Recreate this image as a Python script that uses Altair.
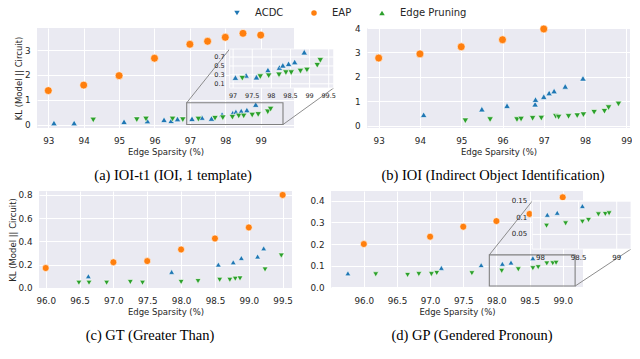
import altair as alt
import pandas as pd

methods = ["ACDC", "EAP", "Edge Pruning"]
colors = ["#1f77b4", "#ff7f0e", "#2ca02c"]
plot_shapes = ["triangle-up", "circle", "triangle-down"]
legend_shapes = ["triangle-down", "circle", "triangle-up"]

# ---------- (a) IOI-t1 ----------
a_acdc_x = [93.16, 93.73, 95.14, 95.80, 96.27, 96.47, 96.65, 97.06, 97.34, 97.61, 97.91, 98.21, 98.30, 98.45, 98.61, 98.86]
a_acdc_y = [0.07, 0.07, 0.12, 0.15, 0.20, 0.16, 0.23, 0.24, 0.29, 0.25, 0.41, 0.465, 0.515, 0.55, 0.59, 0.81]
a_eap_x = [93.0, 94.0, 95.0, 96.0, 97.0, 97.5, 98.0, 98.5, 99.0]
a_eap_y = [1.37, 1.59, 1.97, 2.67, 3.23, 3.35, 3.51, 3.67, 3.60]
a_ep_x = [94.27, 95.50, 95.76, 96.51, 96.80, 97.24, 97.71, 97.93, 98.20, 98.38, 98.52, 98.76, 98.93, 99.20, 99.28]
a_ep_y = [0.19, 0.20, 0.23, 0.23, 0.20, 0.225, 0.26, 0.28, 0.30, 0.35, 0.35, 0.385, 0.41, 0.515, 0.625]

# ---------- (b) IOI ----------
b_acdc_x = [94.09, 95.50, 96.11, 96.79, 96.80, 97.00, 97.13, 97.25, 97.52, 97.95]
b_acdc_y = [0.45, 0.68, 0.82, 0.88, 1.07, 1.19, 1.34, 1.42, 1.61, 1.94]
b_eap_x = [93.0, 94.0, 95.0, 96.0, 97.0]
b_eap_y = [2.77, 2.94, 3.23, 3.52, 3.96]
b_ep_x = [95.10, 95.70, 96.35, 96.45, 96.73, 96.94, 97.29, 97.36, 97.60, 97.81, 97.96, 98.22, 98.47, 98.57, 98.81]
b_ep_y = [0.20, 0.25, 0.25, 0.27, 0.30, 0.31, 0.38, 0.35, 0.38, 0.41, 0.45, 0.55, 0.59, 0.74, 0.89]

# ---------- (c) GT ----------
c_acdc_x = [96.63, 97.86, 98.55, 98.77, 98.89, 99.13, 99.22]
c_acdc_y = [0.10, 0.137, 0.20, 0.22, 0.257, 0.27, 0.34]
c_eap_x = [96.0, 97.0, 97.5, 98.0, 98.5, 99.0, 99.5]
c_eap_y = [0.17, 0.22, 0.23, 0.33, 0.425, 0.52, 0.80]
c_ep_x = [96.49, 96.64, 96.90, 97.25, 97.43, 98.00, 98.25, 98.57, 98.72, 98.80, 98.87, 99.24, 99.48]
c_ep_y = [0.043, 0.043, 0.043, 0.049, 0.043, 0.049, 0.057, 0.068, 0.068, 0.077, 0.080, 0.157, 0.277]

# ---------- (d) GP ----------
d_acdc_x = [95.76, 97.17, 97.77, 98.09, 98.22, 98.55]
d_acdc_y = [0.065, 0.090, 0.103, 0.109, 0.115, 0.135]
d_eap_x = [96.0, 97.0, 97.5, 98.0, 98.5, 99.0]
d_eap_y = [0.200, 0.234, 0.280, 0.306, 0.339, 0.416]
d_ep_x = [96.18, 96.66, 96.83, 97.02, 97.10, 97.63, 98.08, 98.33, 98.55, 98.63, 98.76, 98.85, 98.90]
d_ep_y = [0.060, 0.057, 0.061, 0.061, 0.066, 0.065, 0.076, 0.083, 0.088, 0.093, 0.110, 0.111, 0.113]

# tick values / labels
a_xticks = [93, 94, 95, 96, 97, 98, 99]
a_yticks = [0, 1, 2, 3]
b_xticks = [93, 94, 95, 96, 97, 98, 99]
b_yticks = [0, 1, 2, 3, 4]
c_xticks = [96.0, 96.5, 97.0, 97.5, 98.0, 98.5, 99.0, 99.5]
c_yticks = [0.0, 0.2, 0.4, 0.6, 0.8]
d_xticks = [95.5, 96.0, 96.5, 97.0, 97.5, 98.0, 98.5, 99.0]
d_yticks = [0.0, 0.1, 0.2, 0.3, 0.4]

a_inset_xticks = [97, 97.5, 98, 98.5, 99, 99.5]
a_inset_xlabels = ["97", "97.5", "98", "98.5", "99", "99.5"]
a_inset_yticks = [0.1, 0.3, 0.5, 0.7]
a_inset_ylabels = ["0.1", "0.3", "0.5", "0.7"]
d_inset_xticks = [98, 98.5, 99]
d_inset_xlabels = ["98", "98.5", "99"]
d_inset_yticks = [0.05, 0.1, 0.15]
d_inset_ylabels = ["0.05", "0.1", "0.15"]

TXT = "#262626"
GRAYLINE = "#808080"
BG = "#EAEAF2"


def make_panel(P):
    W, H = P["W"], P["H"]
    X0, X1 = P["xdom"]
    Y0, Y1 = P["ydom"]
    xs = alt.Scale(domain=[X0, X1], nice=False, zero=False)
    ys = alt.Scale(domain=[Y0, Y1], nice=False, zero=False)
    if P["ytitle"]:
        yaxis = alt.Axis(values=P["yticks"], format=P["yfmt"], title=P["ytitle"])
    else:
        yaxis = alt.Axis(values=P["yticks"], format=P["yfmt"], title=None)
    xaxis = alt.Axis(values=P["xticks"], format=P["xfmt"], title="Edge Sparsity (%)")
    main = []
    for i, m in enumerate(methods):
        df = pd.DataFrame({"x": P["data"][m][0], "y": P["data"][m][1]})
        main.append(
            alt.Chart(df).mark_point(filled=True, shape=plot_shapes[i], size=P["sizes"][i],
                                     fill=colors[i], stroke="white", strokeWidth=0.6, opacity=1)
            .encode(x=alt.X("x:Q", scale=xs, axis=xaxis),
                    y=alt.Y("y:Q", scale=ys, axis=yaxis))
        )
    if P.get("legend"):
        leg = dict(orient="none", legendX=195, legendY=-20, direction="horizontal", title=None,
                   labelFont="DejaVu Sans", labelFontSize=10, labelColor=TXT, symbolSize=30,
                   symbolStrokeWidth=0, labelOffset=13, columnPadding=25, padding=0)
        main.append(
            alt.Chart(pd.DataFrame({"method": methods})).transform_filter("false")
            .mark_point(filled=True, opacity=1)
            .encode(color=alt.Color("method:N", scale=alt.Scale(domain=methods, range=colors),
                                    legend=alt.Legend(**leg)),
                    shape=alt.Shape("method:N", scale=alt.Scale(domain=methods, range=legend_shapes),
                                    legend=alt.Legend(**leg)))
        )
    if P.get("inset"):
        I = P["inset"]
        ix0, ix1, iy0, iy1 = I["box"]
        mx0, mx1, my0, my1 = I["at"]

        def px(v):
            return (v - X0) / (X1 - X0) * W

        def py(v):
            return (v - Y0) / (Y1 - Y0) * H

        su = (ix1 - ix0) / (px(mx1) - px(mx0))
        lo = ix0 - px(mx0) * su
        ixs = alt.Scale(domain=[lo, lo + W * su], nice=False, zero=False)
        sv = (iy1 - iy0) / (py(my1) - py(my0))
        lov = iy0 - py(my0) * sv
        iys = alt.Scale(domain=[lov, lov + H * sv], nice=False, zero=False)
        one = alt.Data(values=[{"k": 0}])
        # zoom box + connectors on the main axes
        main.append(
            alt.Chart(one).mark_rect(fillOpacity=0, stroke=GRAYLINE, strokeWidth=1.1)
            .encode(x=alt.XDatum(ix0, scale=xs, axis=xaxis, type="quantitative"), x2=alt.datum(ix1),
                    y=alt.YDatum(iy0, scale=ys, axis=yaxis, type="quantitative"), y2=alt.datum(iy1))
        )
        conn = pd.DataFrame({"x": [ix0, ix1], "y": [iy1, iy0], "x2": [mx0, mx1], "y2": [my1, my0]})
        main.append(
            alt.Chart(conn).mark_rule(color=GRAYLINE, strokeWidth=0.9)
            .encode(x=alt.X("x:Q", scale=xs, axis=xaxis), y=alt.Y("y:Q", scale=ys, axis=yaxis),
                    x2="x2:Q", y2="y2:Q")
        )
        ins = []
        ins.append(
            alt.Chart(one).mark_rect(fill=BG, stroke="white", strokeWidth=0.8)
            .encode(x=alt.XDatum(ix0, scale=ixs, axis=None, type="quantitative"), x2=alt.datum(ix1),
                    y=alt.YDatum(iy0, scale=iys, axis=None, type="quantitative"), y2=alt.datum(iy1))
        )
        gx = pd.DataFrame({"v": I["xticks"], "label": I["xlabels"]})
        gy = pd.DataFrame({"v": I["yticks"], "label": I["ylabels"]})
        ins.append(
            alt.Chart(gx).mark_rule(color="white", strokeWidth=1)
            .encode(x=alt.X("v:Q", scale=ixs, axis=None),
                    y=alt.YDatum(iy0, scale=iys, axis=None, type="quantitative"), y2=alt.datum(iy1))
        )
        ins.append(
            alt.Chart(gy).mark_rule(color="white", strokeWidth=1)
            .encode(y=alt.Y("v:Q", scale=iys, axis=None),
                    x=alt.XDatum(ix0, scale=ixs, axis=None, type="quantitative"), x2=alt.datum(ix1))
        )
        for i, m in enumerate(methods):
            df = pd.DataFrame({"x": P["data"][m][0], "y": P["data"][m][1]})
            df = df[(df.x >= ix0) & (df.x <= ix1) & (df.y >= iy0) & (df.y <= iy1)]
            if len(df) == 0:
                continue
            ins.append(
                alt.Chart(df).mark_point(filled=True, shape=plot_shapes[i], size=P["sizes"][i],
                                         fill=colors[i], stroke="white", strokeWidth=0.6, opacity=1)
                .encode(x=alt.X("x:Q", scale=ixs, axis=None), y=alt.Y("y:Q", scale=iys, axis=None))
            )
        ins.append(
            alt.Chart(gx).mark_text(font="DejaVu Sans", fontSize=I["fs"], color=TXT, baseline="top", dy=5)
            .encode(x=alt.X("v:Q", scale=ixs, axis=None),
                    y=alt.YDatum(iy0, scale=iys, axis=None, type="quantitative"), text="label:N")
        )
        ins.append(
            alt.Chart(gy).mark_text(font="DejaVu Sans", fontSize=I["fs"], color=TXT, align="right",
                                    baseline="middle", dx=-5)
            .encode(y=alt.Y("v:Q", scale=iys, axis=None),
                    x=alt.XDatum(ix0, scale=ixs, axis=None, type="quantitative"), text="label:N")
        )
        layers = alt.layer(alt.layer(*main), alt.layer(*ins)).resolve_scale(x="independent", y="independent")
    else:
        layers = alt.layer(*main)
    return layers.properties(
        width=W, height=H,
        view=alt.ViewBackground(fill=BG, strokeWidth=0),
        title=alt.TitleParams(P["title"], orient="bottom", anchor="middle", frame="group",
                              font="Liberation Serif", fontSize=14.5, fontWeight="normal",
                              color="#000000", offset=13, dx=P["dx"]),
    )


PA = dict(W=257, H=100, xdom=[92.681, 99.941], ydom=[-0.133, 3.884],
          xticks=a_xticks, yticks=a_yticks, xfmt="d", yfmt="d", ytitle="KL (Model || Circuit)",
          data={"ACDC": (a_acdc_x, a_acdc_y), "EAP": (a_eap_x, a_eap_y), "Edge Pruning": (a_ep_x, a_ep_y)},
          sizes=[42, 62, 42], title="(a) IOI-t1 (IOI, 1 template)", dx=7.5, legend=True,
          inset=dict(box=[96.91, 99.63, 0.006, 0.88], at=[98.124, 101.062, 1.474, 3.04],
                     xticks=a_inset_xticks, xlabels=a_inset_xlabels,
                     yticks=a_inset_yticks, ylabels=a_inset_ylabels, fs=6.5))
PB = dict(W=263, H=100, xdom=[92.717, 99.089], ydom=[-0.094, 4.0],
          xticks=b_xticks, yticks=b_yticks, xfmt="d", yfmt="d", ytitle=None,
          data={"ACDC": (b_acdc_x, b_acdc_y), "EAP": (b_eap_x, b_eap_y), "Edge Pruning": (b_ep_x, b_ep_y)},
          sizes=[42, 62, 42], title="(b) IOI (Indirect Object Identification)", dx=-5.5)
PC = dict(W=253, H=97, xdom=[95.901, 99.638], ydom=[-0.002, 0.834],
          xticks=c_xticks, yticks=c_yticks, xfmt=".1f", yfmt=".1f", ytitle="KL (Model || Circuit)",
          data={"ACDC": (c_acdc_x, c_acdc_y), "EAP": (c_eap_x, c_eap_y), "Edge Pruning": (c_ep_x, c_ep_y)},
          sizes=[34, 48, 34], title="(c) GT (Greater Than)", dx=-15.5)
PD = dict(W=252, H=97, xdom=[95.505, 99.306], ydom=[-0.003, 0.445],
          xticks=d_xticks, yticks=d_yticks, xfmt=".1f", yfmt=".1f", ytitle=None,
          data={"ACDC": (d_acdc_x, d_acdc_y), "EAP": (d_eap_x, d_eap_y), "Edge Pruning": (d_ep_x, d_ep_y)},
          sizes=[34, 48, 34], title="(d) GP (Gendered Pronoun)", dx=15,
          inset=dict(box=[97.893, 99.187, 0.006, 0.15], at=[98.541, 100.03, 0.1769, 0.3986],
                     xticks=d_inset_xticks, xlabels=d_inset_xlabels,
                     yticks=d_inset_yticks, ylabels=d_inset_ylabels, fs=7))


def gap(w, h):
    return (alt.Chart(alt.Data(values=[{"k": 0}])).mark_point(opacity=0)
            .encode(x=alt.value(0), y=alt.value(0)).properties(width=w, height=h))


row1 = alt.hconcat(make_panel(PA), gap(73, 100), make_panel(PB), spacing=0, bounds="flush")
row2 = alt.hconcat(gap(1.6, 97), make_panel(PC), gap(39, 97), make_panel(PD), spacing=0, bounds="flush")

chart = (
    alt.vconcat(row1, row2, spacing=5)
    .properties(padding=0)
    .configure_view(strokeWidth=0)
    .configure_axis(labelFont="DejaVu Sans", labelFontSize=8.8, labelColor=TXT,
                    titleFont="DejaVu Sans", titleFontSize=8.5, titleFontWeight="normal", titleColor=TXT,
                    domain=False, ticks=False, tickSize=0, gridColor="white", gridWidth=1, gridOpacity=1,
                    labelFlush=False, labelOverlap=False, labelPadding=8, titlePadding=3)
    .configure_axisY(labelPadding=7, titlePadding=1)
)

chart.save("out.html", embed_options={"renderer": "svg", "actions": False})
